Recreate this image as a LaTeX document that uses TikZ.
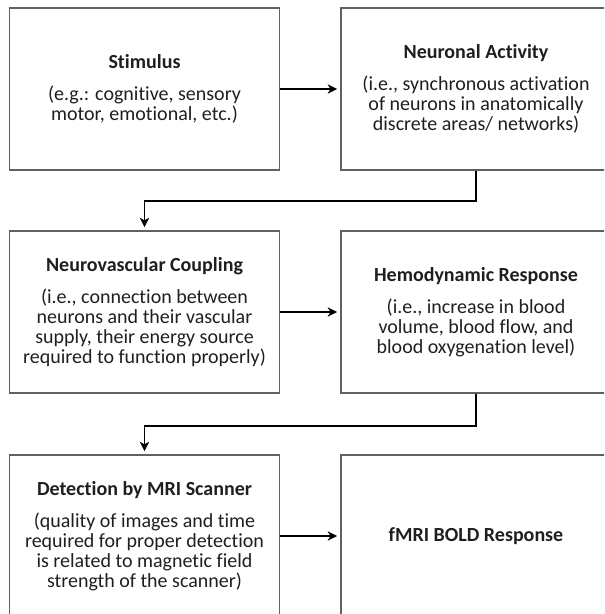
\documentclass[tikz,border=0pt]{standalone}
\usepackage{fontspec}
\setmainfont[Ligatures=NoCommon]{Carlito}
\usetikzlibrary{arrows.meta}
\begin{document}
\begin{tikzpicture}[x=0.75pt,y=-0.75pt,
  box/.style={draw=black!62, line width=0.9pt, minimum width=202.5pt, minimum height=121.5pt,
    align=center, inner sep=0pt, text=black!88, font=\fontsize{15}{15}\selectfont},
  conn/.style={draw=black, line width=1.4pt, -{Stealth[length=7pt,width=7pt,inset=2pt]}, shorten >=2.5pt}]
\useasboundingbox (0,0) rectangle (604,614);
\clip (0,0) rectangle (604,614);
\node[box] (b1) at (144.5,89) {\textbf{Stimulus}\\[9pt](e.g.: cognitive, sensory\\motor, emotional, etc.)};
\node[box] (b2) at (476,89) {\textbf{Neuronal Activity}\\[9pt](i.e., synchronous activation\\of neurons in anatomically\\discrete areas/ networks)};
\node[box] (b3) at (144.5,312) {\textbf{Neurovascular Coupling}\\[9pt](i.e., connection between\\neurons and their vascular\\supply, their energy source\\required to function properly)};
\node[box] (b4) at (476,312) {\textbf{Hemodynamic Response}\\[9pt](i.e., increase in blood\\volume, blood flow, and\\blood oxygenation level)};
\node[box] (b5) at (144.5,536) {\textbf{Detection by MRI Scanner}\\[9pt](quality of images and time\\required for proper detection\\is related to magnetic field\\strength of the scanner)};
\node[box] (b6) at (476,536) {\textbf{fMRI BOLD Response}};
\draw[conn] (b1.east) -- (b2.west);
\draw[conn] (b3.east) -- (b4.west);
\draw[conn] (b5.east) -- (b6.west);
\draw[conn] (b2.south) -- ++(0,30.5) -| (b3.north);
\draw[conn] (b4.south) -- ++(0,32) -| (b5.north);
\end{tikzpicture}
\end{document}
